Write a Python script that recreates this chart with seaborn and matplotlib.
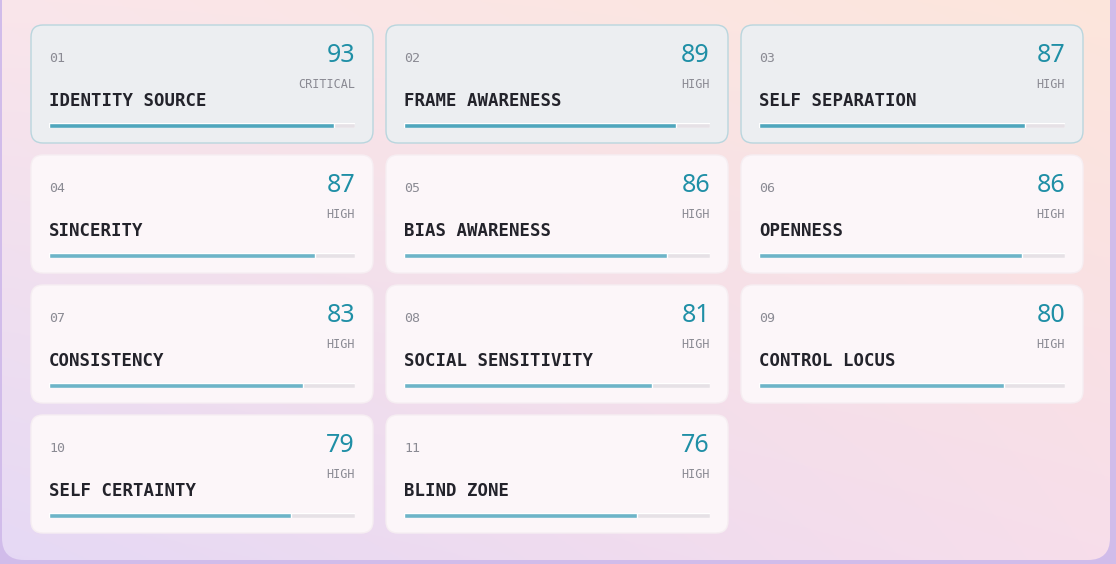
import numpy as np
import pandas as pd
import matplotlib.pyplot as plt
import seaborn as sns
from matplotlib.patches import FancyBboxPatch

sns.set_theme(style='white')

# data
names = ['IDENTITY SOURCE', 'FRAME AWARENESS', 'SELF SEPARATION', 'SINCERITY',
         'BIAS AWARENESS', 'OPENNESS', 'CONSISTENCY', 'SOCIAL SENSITIVITY',
         'CONTROL LOCUS', 'SELF CERTAINTY', 'BLIND ZONE']
scores = [93, 89, 87, 87, 86, 86, 83, 81, 80, 79, 76]
levels = ['CRITICAL', 'HIGH', 'HIGH', 'HIGH', 'HIGH', 'HIGH', 'HIGH', 'HIGH',
          'HIGH', 'HIGH', 'HIGH']
highlighted = [True, True, True] + [False] * 8

W, H = 1116, 564
fig = plt.figure(figsize=(W / 100, H / 100), dpi=100)
ax = fig.add_axes([0, 0, 1, 1])
ax.set_xlim(0, W)
ax.set_ylim(H, 0)
ax.axis('off')

# soft background gradient (pink / peach / lavender)
yy, xx = np.mgrid[0:1:200j, 0:1:300j]
tl = np.array([0.98, 0.90, 0.92])
tr = np.array([0.99, 0.90, 0.86])
bl = np.array([0.90, 0.85, 0.96])
br = np.array([0.97, 0.87, 0.92])
img = (tl * ((1 - xx) * (1 - yy))[..., None] + tr * (xx * (1 - yy))[..., None]
       + bl * ((1 - xx) * yy)[..., None] + br * (xx * yy)[..., None])
ax.imshow(np.full((2, 2, 3), [0.82, 0.74, 0.92]), extent=(0, W, H, 0), zorder=0)
ax.add_patch(FancyBboxPatch((2, -40), 1108, 600, boxstyle='round,pad=0,rounding_size=22',
                            fc='none', ec='none', zorder=0))
bg = ax.imshow(img, extent=(0, W, H, 0), zorder=1, aspect='auto')
clip = FancyBboxPatch((2, -40), 1108, 600, boxstyle='round,pad=0,rounding_size=22',
                      transform=ax.transData, fc='none', ec='none')
ax.add_patch(clip)
bg.set_clip_path(clip)

col_x = [31, 386, 741]
row_y = [25, 155, 285, 415]
cw, ch = 342, 118
mono = 'DejaVu Sans Mono'

for i, (name, score, lvl, hl) in enumerate(zip(names, scores, levels, highlighted)):
    x0 = col_x[i % 3]
    y0 = row_y[i // 3]
    fc = '#eceef1' if hl else '#fcf6f9'
    ec = '#b9d6de' if hl else '#f6eef2'
    ax.add_patch(FancyBboxPatch((x0, y0), cw, ch, boxstyle='round,pad=0,rounding_size=12',
                                fc=fc, ec=ec, lw=1, zorder=2))
    ax.text(x0 + 18, y0 + 33, f'{i + 1:02d}', family=mono, fontsize=9.5,
            color='#8a8a93', va='center', zorder=3)
    ax.text(x0 + 324, y0 + 31, str(score), family=['Noto Sans', 'DejaVu Sans'],
            fontsize=18, weight='bold', color='#1f8fa6', ha='right', va='center', zorder=3)
    ax.text(x0 + 324, y0 + 59, lvl, family=mono, fontsize=8.5, color='#8a8a93',
            ha='right', va='center', zorder=3)
    ax.text(x0 + 18, y0 + 76, name, family=mono, fontsize=12.5, weight='bold',
            color='#23232b', va='center', zorder=3)

    # progress bar on its own axes
    bx = (x0 + 18) / W
    by = 1 - (y0 + 103) / H
    bax = fig.add_axes([bx, by, 306 / W, 5 / H])
    df = pd.DataFrame({'k': [''], 'v': [score]})
    sns.barplot(data=pd.DataFrame({'k': [''], 'v': [100]}), x='v', y='k', color='#e6e1e6',
                width=1, ax=bax, saturation=1)
    sns.barplot(data=df, x='v', y='k', color='#6db4c8' if not hl else '#4fa6bd',
                width=1, ax=bax, saturation=1)
    bax.set_xlim(0, 100)
    bax.axis('off')

fig.savefig('out.png', dpi=100)
